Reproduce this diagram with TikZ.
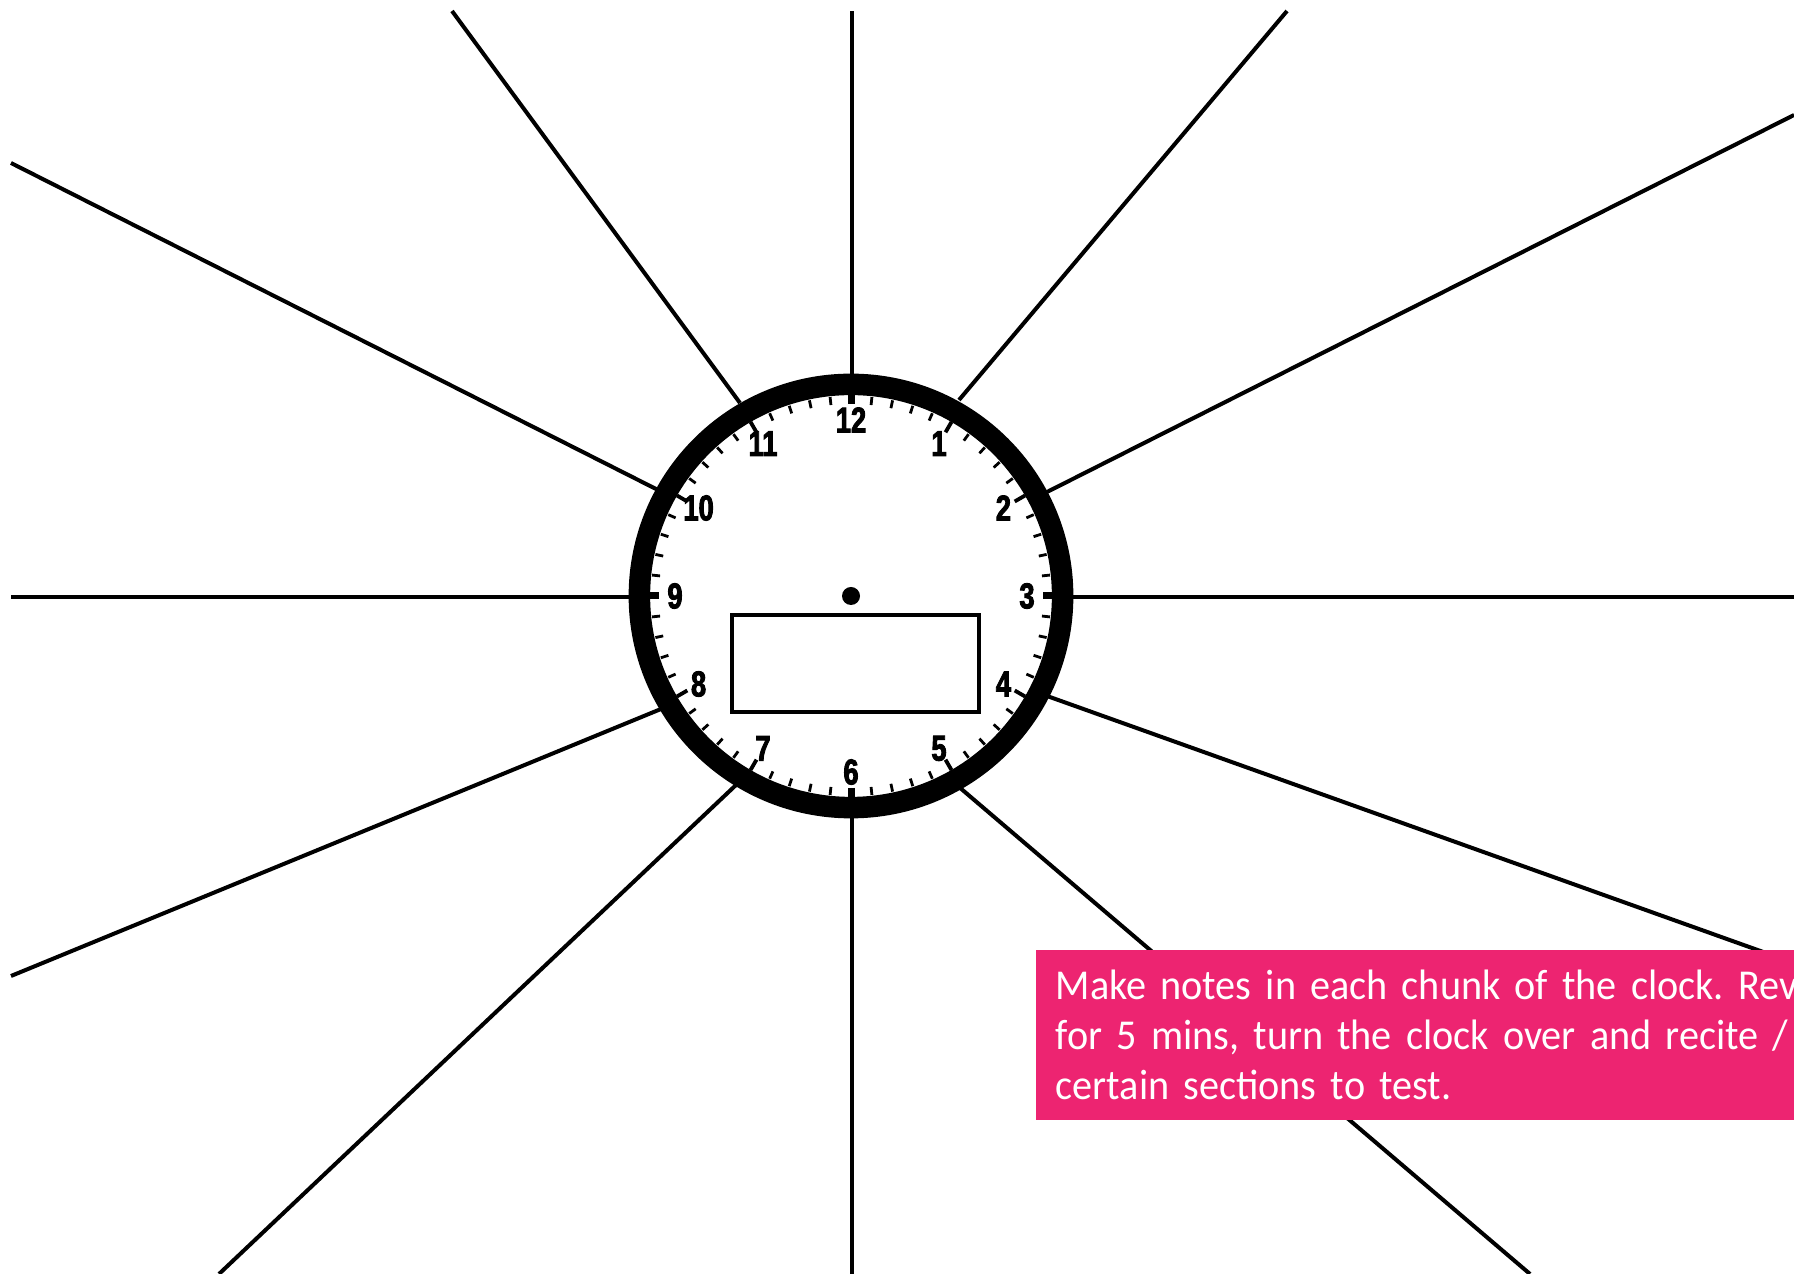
\documentclass[tikz,border=0pt]{standalone}
\usepackage{fontspec}
\usetikzlibrary{positioning}
\newfontfamily\dialfont[FakeStretch=0.76, FakeBold=2.5]{Liberation Sans Bold}
\newfontfamily\notefont[FakeStretch=0.945, WordSpace=0.8]{Carlito}
\definecolor{notepink}{HTML}{ED2471}
\tikzset{
  spoke/.style={line width=0.04cm},
  clockface/.style={circle, draw, fill=white, line width=0.215cm,
                    minimum size=4.23cm, inner sep=0pt},
  minutetick/.style={line width=0.028cm},
  hourtick/.style={line width=0.038cm},
  quartertick/.style={line width=0.07cm},
  hournum/.style={inner sep=0pt, font=\dialfont\fontsize{10.2}{10}\selectfont},
  pivot/.style={circle, fill, minimum size=0.18cm, inner sep=0pt},
  timebox/.style={rectangle, draw, line width=0.04cm, minimum width=2.47cm,
                  minimum height=0.97cm, inner sep=0pt},
  notebox/.style={rectangle, fill=notepink, text=white, anchor=north west,
                  align=left, text width=9cm, minimum height=1.7cm,
                  inner xsep=0.2cm, inner ysep=0.2cm,
                  font=\notefont\fontsize{12.1}{14.2}\selectfont\frenchspacing},
}

\begin{document}
\begin{tikzpicture}[x=0.01cm, y=-0.01cm]
  \useasboundingbox (0,0) rectangle (1794,1274);

  % Spokes (drawn first, the ring covers their inner ends)
  \foreach \h/\ix/\iy/\ox/\oy in {12/852/380/852/11, 1/959/400/1287/11,
      2/1047/492/1794/115, 3/1068/597/1794/597, 4/1047/696/1794/963,
      5/959/787/1530/1274, 6/852/812/852/1274, 7/736/785/219/1274,
      8/661/709/11/976, 9/634/597/11/597, 10/658/490/11/163,
      11/740/403/452/11}
  {
    \coordinate (in\h) at (\ix,\iy);
    \coordinate (out\h) at (\ox,\oy);
    \draw[spoke] (in\h) -- (out\h);
  }

  % Clock
  \node[clockface] (clock) at (851,596) {};
  \begin{scope}[shift={(clock.center)}]
    \foreach \m in {0,...,59}
      \draw[minutetick] ({6*\m-90}:192) -- ({6*\m-90}:200);
    \foreach \h in {1,2,4,5,7,8,10,11}
      \draw[hourtick] ({30*\h-90}:189) -- ({30*\h-90}:201);
    \foreach \h in {3,6,9,12}
      \draw[quartertick] ({30*\h-90}:192) -- ({30*\h-90}:204);
    \foreach \h in {1,...,12}
      \node[hournum] (n\h) at ({30*\h-90}:176) {\h};
  \end{scope}
  \node[pivot] (dot) at (clock.center) {};
  \node[timebox] (answer) at (855.5,663.5) {};

  % Instructions
  \node[notebox] (note) at (1035,949)
    {Make notes in each chunk of the clock. Rev\\
     for 5 mins, turn the clock over and recite / r\\
     certain sections to test.};
\end{tikzpicture}
\end{document}
